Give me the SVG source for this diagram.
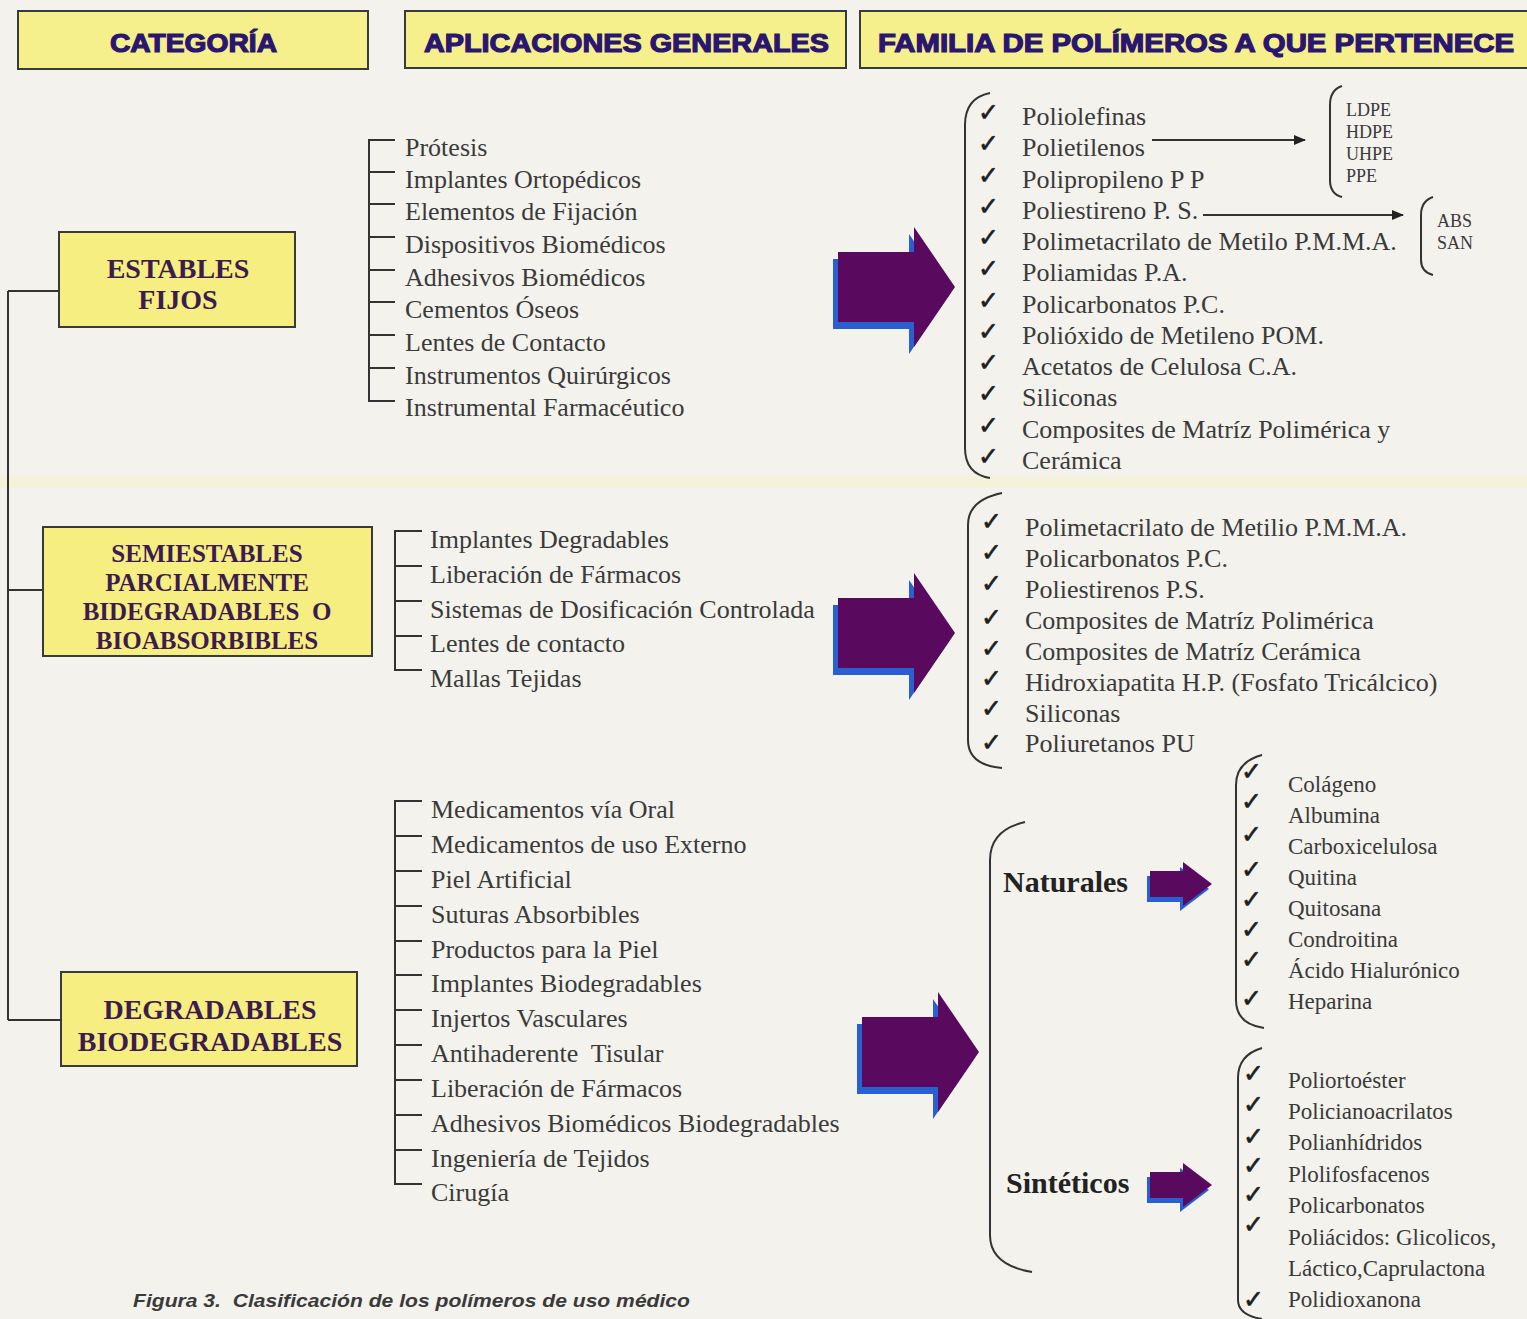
<svg xmlns="http://www.w3.org/2000/svg" width="1527" height="1319" viewBox="0 0 1527 1319">
<style>
.hdr{fill:#f6f08c;stroke:#3a3a3a;stroke-width:2}
.cat{fill:#f6ee80;stroke:#3a3a3a;stroke-width:2}
.ht{font-family:"Liberation Sans",Arial,sans-serif;font-weight:bold;font-size:26px;fill:#2a1670;stroke:#2a1670;stroke-width:1.2}
.ct{font-family:"Liberation Serif","Times New Roman",serif;font-weight:bold;fill:#3c1c4f;text-anchor:middle}
.it{font-family:"Liberation Serif","Times New Roman",serif;font-size:26px;fill:#3a3a3a}
.sm{font-family:"Liberation Serif","Times New Roman",serif;font-size:23px;fill:#3a3a3a}
.xs{font-family:"Liberation Serif","Times New Roman",serif;font-size:18px;fill:#3a3a3a}
.lb{font-family:"Liberation Serif","Times New Roman",serif;font-weight:bold;font-size:30px;fill:#222}
.ck{font-family:"DejaVu Sans",sans-serif;font-size:25px;fill:#1e1e1e;stroke:#1e1e1e;stroke-width:0.6}
.ln{stroke:#333;stroke-width:2;fill:none}
.br{stroke:#333;stroke-width:2;fill:none}
.cap{font-family:"Liberation Sans",Arial,sans-serif;font-weight:bold;font-style:italic;font-size:18px;fill:#3a3a3a}
</style>
<defs>
<path id="bigArrow" d="M0,-35 H76 V-60 L117,0 L76,60 V35 H0 Z"/>
<path id="smArrow" d="M0,-13 H33 V-22 L62,0 L33,22 V13 H0 Z"/>
<marker id="ah" markerWidth="12" markerHeight="10" refX="11" refY="5" orient="auto" markerUnits="userSpaceOnUse">
<path d="M0,0 L12,5 L0,10 Z" fill="#222"/>
</marker>
</defs>
<rect width="1527" height="1319" fill="#f3f2ed"/>
<rect x="0" y="476" width="1527" height="12" fill="#f5f2dc"/>

<g id="header-categoria">
<rect class="hdr" x="18" y="11" width="350" height="58"/>
<text class="ht" x="110" y="52" textLength="167" lengthAdjust="spacingAndGlyphs">CATEGORÍA</text>
</g>
<g id="header-aplicaciones">
<rect class="hdr" x="405" y="11" width="441" height="57"/>
<text class="ht" x="424" y="52" textLength="405" lengthAdjust="spacingAndGlyphs">APLICACIONES GENERALES</text>
</g>
<g id="header-familia">
<rect class="hdr" x="860" y="11" width="680" height="57"/>
<text class="ht" x="878" y="52" textLength="636" lengthAdjust="spacingAndGlyphs">FAMILIA DE POLÍMEROS A QUE PERTENECE</text>
</g>

<g id="connectors">
<path class="ln" d="M8,291 V1020 M8,291 H59 M8,590 H43 M8,1020 H61"/>
<path class="ln" d="M395,140 H369 V401 H395 M369,172 H395 M369,204 H395 M369,237 H395 M369,270 H395 M369,302 H395 M369,335 H395 M369,368 H395"/>
<path class="ln" d="M422,531 H395 V670 H422 M395,566 H422 M395,601 H422 M395,636 H422"/>
<path class="ln" d="M422,801 H395 V1184 H422 M395,836 H422 M395,871 H422 M395,906 H422 M395,941 H422 M395,975 H422 M395,1010 H422 M395,1045 H422 M395,1080 H422 M395,1115 H422 M395,1150 H422"/>
<line class="ln" x1="1152" y1="140" x2="1305" y2="140" marker-end="url(#ah)"/>
<line class="ln" x1="1203" y1="215" x2="1403" y2="215" marker-end="url(#ah)"/>
<g id="big-arrows">
<use href="#bigArrow" transform="translate(833,294)" fill="#2a5fd0"/>
<use href="#bigArrow" transform="translate(838,287)" fill="#5a0a5e"/>
<use href="#bigArrow" transform="translate(833,640)" fill="#2a5fd0"/>
<use href="#bigArrow" transform="translate(838,633)" fill="#5a0a5e"/>
<use href="#bigArrow" transform="translate(857,1059)" fill="#2a5fd0"/>
<use href="#bigArrow" transform="translate(862,1052)" fill="#5a0a5e"/>
<use href="#smArrow" transform="translate(1147,889)" fill="#2a5fd0"/>
<use href="#smArrow" transform="translate(1150,884)" fill="#5a0a5e"/>
<use href="#smArrow" transform="translate(1147,1190)" fill="#2a5fd0"/>
<use href="#smArrow" transform="translate(1150,1185)" fill="#5a0a5e"/>
</g>
</g>

<g id="cat-estables">
<rect class="cat" x="59" y="232" width="236" height="95"/>
<text class="ct" font-size="28" x="178" y="278">ESTABLES</text>
<text class="ct" font-size="28" x="178" y="309">FIJOS</text>
</g>
<g id="cat-semiestables">
<rect class="cat" x="43" y="527" width="329" height="129"/>
<text class="ct" font-size="25" x="207" y="562">SEMIESTABLES</text>
<text class="ct" font-size="25" x="207" y="591">PARCIALMENTE</text>
<text class="ct" font-size="25" x="207" y="620" xml:space="preserve">BIDEGRADABLES  O</text>
<text class="ct" font-size="25" x="207" y="649">BIOABSORBIBLES</text>
</g>
<g id="cat-degradables">
<rect class="cat" x="61" y="972" width="296" height="94"/>
<text class="ct" font-size="28" x="210" y="1019">DEGRADABLES</text>
<text class="ct" font-size="28" x="210" y="1051">BIODEGRADABLES</text>
</g>

<g id="apps-estables" class="it">
<text x="405" y="156">Prótesis</text>
<text x="405" y="188">Implantes Ortopédicos</text>
<text x="405" y="220">Elementos de Fijación</text>
<text x="405" y="253">Dispositivos Biomédicos</text>
<text x="405" y="286">Adhesivos Biomédicos</text>
<text x="405" y="318">Cementos Óseos</text>
<text x="405" y="351">Lentes de Contacto</text>
<text x="405" y="384">Instrumentos Quirúrgicos</text>
<text x="405" y="416">Instrumental Farmacéutico</text>
</g>
<g id="apps-semiestables" class="it">
<text x="430" y="548">Implantes Degradables</text>
<text x="430" y="583">Liberación de Fármacos</text>
<text x="430" y="618">Sistemas de Dosificación Controlada</text>
<text x="430" y="652">Lentes de contacto</text>
<text x="430" y="687">Mallas Tejidas</text>
</g>
<g id="apps-degradables" class="it">
<text x="431" y="818">Medicamentos vía Oral</text>
<text x="431" y="853">Medicamentos de uso Externo</text>
<text x="431" y="888">Piel Artificial</text>
<text x="431" y="923">Suturas Absorbibles</text>
<text x="431" y="958">Productos para la Piel</text>
<text x="431" y="992">Implantes Biodegradables</text>
<text x="431" y="1027">Injertos Vasculares</text>
<text x="431" y="1062" xml:space="preserve">Antihaderente  Tisular</text>
<text x="431" y="1097">Liberación de Fármacos</text>
<text x="431" y="1132">Adhesivos Biomédicos Biodegradables</text>
<text x="431" y="1167">Ingeniería de Tejidos</text>
<text x="431" y="1201">Cirugía</text>
</g>

<g id="fam-estables">
<path class="br" d="M990,93 Q965,98 965,125 L965,448 Q965,474 990,478"/>
<g class="ck">
<text x="978" y="121">✓</text><text x="978" y="152">✓</text><text x="978" y="184">✓</text><text x="978" y="215">✓</text>
<text x="978" y="246">✓</text><text x="978" y="277">✓</text><text x="978" y="309">✓</text><text x="978" y="340">✓</text>
<text x="978" y="371">✓</text><text x="978" y="402">✓</text><text x="978" y="434">✓</text><text x="978" y="465">✓</text>
</g>
<g class="it">
<text x="1022" y="125">Poliolefinas</text>
<text x="1022" y="156">Polietilenos</text>
<text x="1022" y="188">Polipropileno P P</text>
<text x="1022" y="219">Poliestireno P. S.</text>
<text x="1022" y="250">Polimetacrilato de Metilo P.M.M.A.</text>
<text x="1022" y="281">Poliamidas P.A.</text>
<text x="1022" y="313">Policarbonatos P.C.</text>
<text x="1022" y="344">Polióxido de Metileno POM.</text>
<text x="1022" y="375">Acetatos de Celulosa C.A.</text>
<text x="1022" y="406">Siliconas</text>
<text x="1022" y="438">Composites de Matríz Polimérica y</text>
<text x="1022" y="469">Cerámica</text>
</g>
</g>
<g id="sub-polietilenos">
<path class="br" d="M1342,86 Q1330,90 1330,105 L1330,180 Q1330,194 1342,197"/>
<g class="xs">
<text x="1346" y="116">LDPE</text>
<text x="1346" y="138">HDPE</text>
<text x="1346" y="160">UHPE</text>
<text x="1346" y="182">PPE</text>
</g>
</g>
<g id="sub-poliestireno">
<path class="br" d="M1433,197 Q1421,201 1421,215 L1421,260 Q1421,272 1433,275"/>
<g class="xs">
<text x="1437" y="227">ABS</text>
<text x="1437" y="249">SAN</text>
</g>
</g>

<g id="fam-semiestables">
<path class="br" d="M1002,493 Q968,500 968,525 L968,740 Q968,765 1002,768"/>
<g class="ck">
<text x="981" y="530">✓</text><text x="981" y="561">✓</text><text x="981" y="592">✓</text><text x="981" y="626">✓</text>
<text x="981" y="657">✓</text><text x="981" y="687">✓</text><text x="981" y="717">✓</text><text x="981" y="751">✓</text>
</g>
<g class="it">
<text x="1025" y="536">Polimetacrilato de Metilio P.M.M.A.</text>
<text x="1025" y="567">Policarbonatos P.C.</text>
<text x="1025" y="598">Poliestirenos P.S.</text>
<text x="1025" y="629">Composites de Matríz Polimérica</text>
<text x="1025" y="660">Composites de Matríz Cerámica</text>
<text x="1025" y="691">Hidroxiapatita H.P. (Fosfato Tricálcico)</text>
<text x="1025" y="722">Siliconas</text>
<text x="1025" y="752">Poliuretanos PU</text>
</g>
</g>

<g id="fam-degradables">
<path class="br" d="M1025,822 Q990,830 990,860 L990,1235 Q990,1265 1032,1272"/>
<text class="lb" x="1003" y="892">Naturales</text>
<text class="lb" x="1006" y="1193">Sintéticos</text>
</g>
<g id="naturales">
<path class="br" d="M1262,755 Q1236,762 1236,785 L1236,1000 Q1236,1024 1264,1028"/>
<g class="ck">
<text x="1241" y="780">✓</text><text x="1241" y="810">✓</text><text x="1241" y="843">✓</text><text x="1241" y="878">✓</text>
<text x="1241" y="908">✓</text><text x="1241" y="938">✓</text><text x="1241" y="968">✓</text><text x="1241" y="1007">✓</text>
</g>
<g class="sm">
<text x="1288" y="792">Colágeno</text>
<text x="1288" y="823">Albumina</text>
<text x="1288" y="854">Carboxicelulosa</text>
<text x="1288" y="885">Quitina</text>
<text x="1288" y="916">Quitosana</text>
<text x="1288" y="947">Condroitina</text>
<text x="1288" y="978">Ácido Hialurónico</text>
<text x="1288" y="1009">Heparina</text>
</g>
</g>
<g id="sinteticos">
<path class="br" d="M1262,1048 Q1238,1055 1238,1078 L1238,1300 Q1238,1315 1262,1319"/>
<g class="ck">
<text x="1243" y="1082">✓</text><text x="1243" y="1113">✓</text><text x="1243" y="1145">✓</text><text x="1243" y="1174">✓</text>
<text x="1243" y="1203">✓</text><text x="1243" y="1233">✓</text><text x="1243" y="1308">✓</text>
</g>
<g class="sm">
<text x="1288" y="1088">Poliortoéster</text>
<text x="1288" y="1119">Policianoacrilatos</text>
<text x="1288" y="1150">Polianhídridos</text>
<text x="1288" y="1182">Plolifosfacenos</text>
<text x="1288" y="1213">Policarbonatos</text>
<text x="1288" y="1245">Poliácidos: Glicolicos,</text>
<text x="1288" y="1276">Láctico,Caprulactona</text>
<text x="1288" y="1307">Polidioxanona</text>
</g>
</g>

<text class="cap" x="133" y="1307" textLength="557" lengthAdjust="spacingAndGlyphs" xml:space="preserve">Figura 3.  Clasificación de los polímeros de uso médico</text>
</svg>
